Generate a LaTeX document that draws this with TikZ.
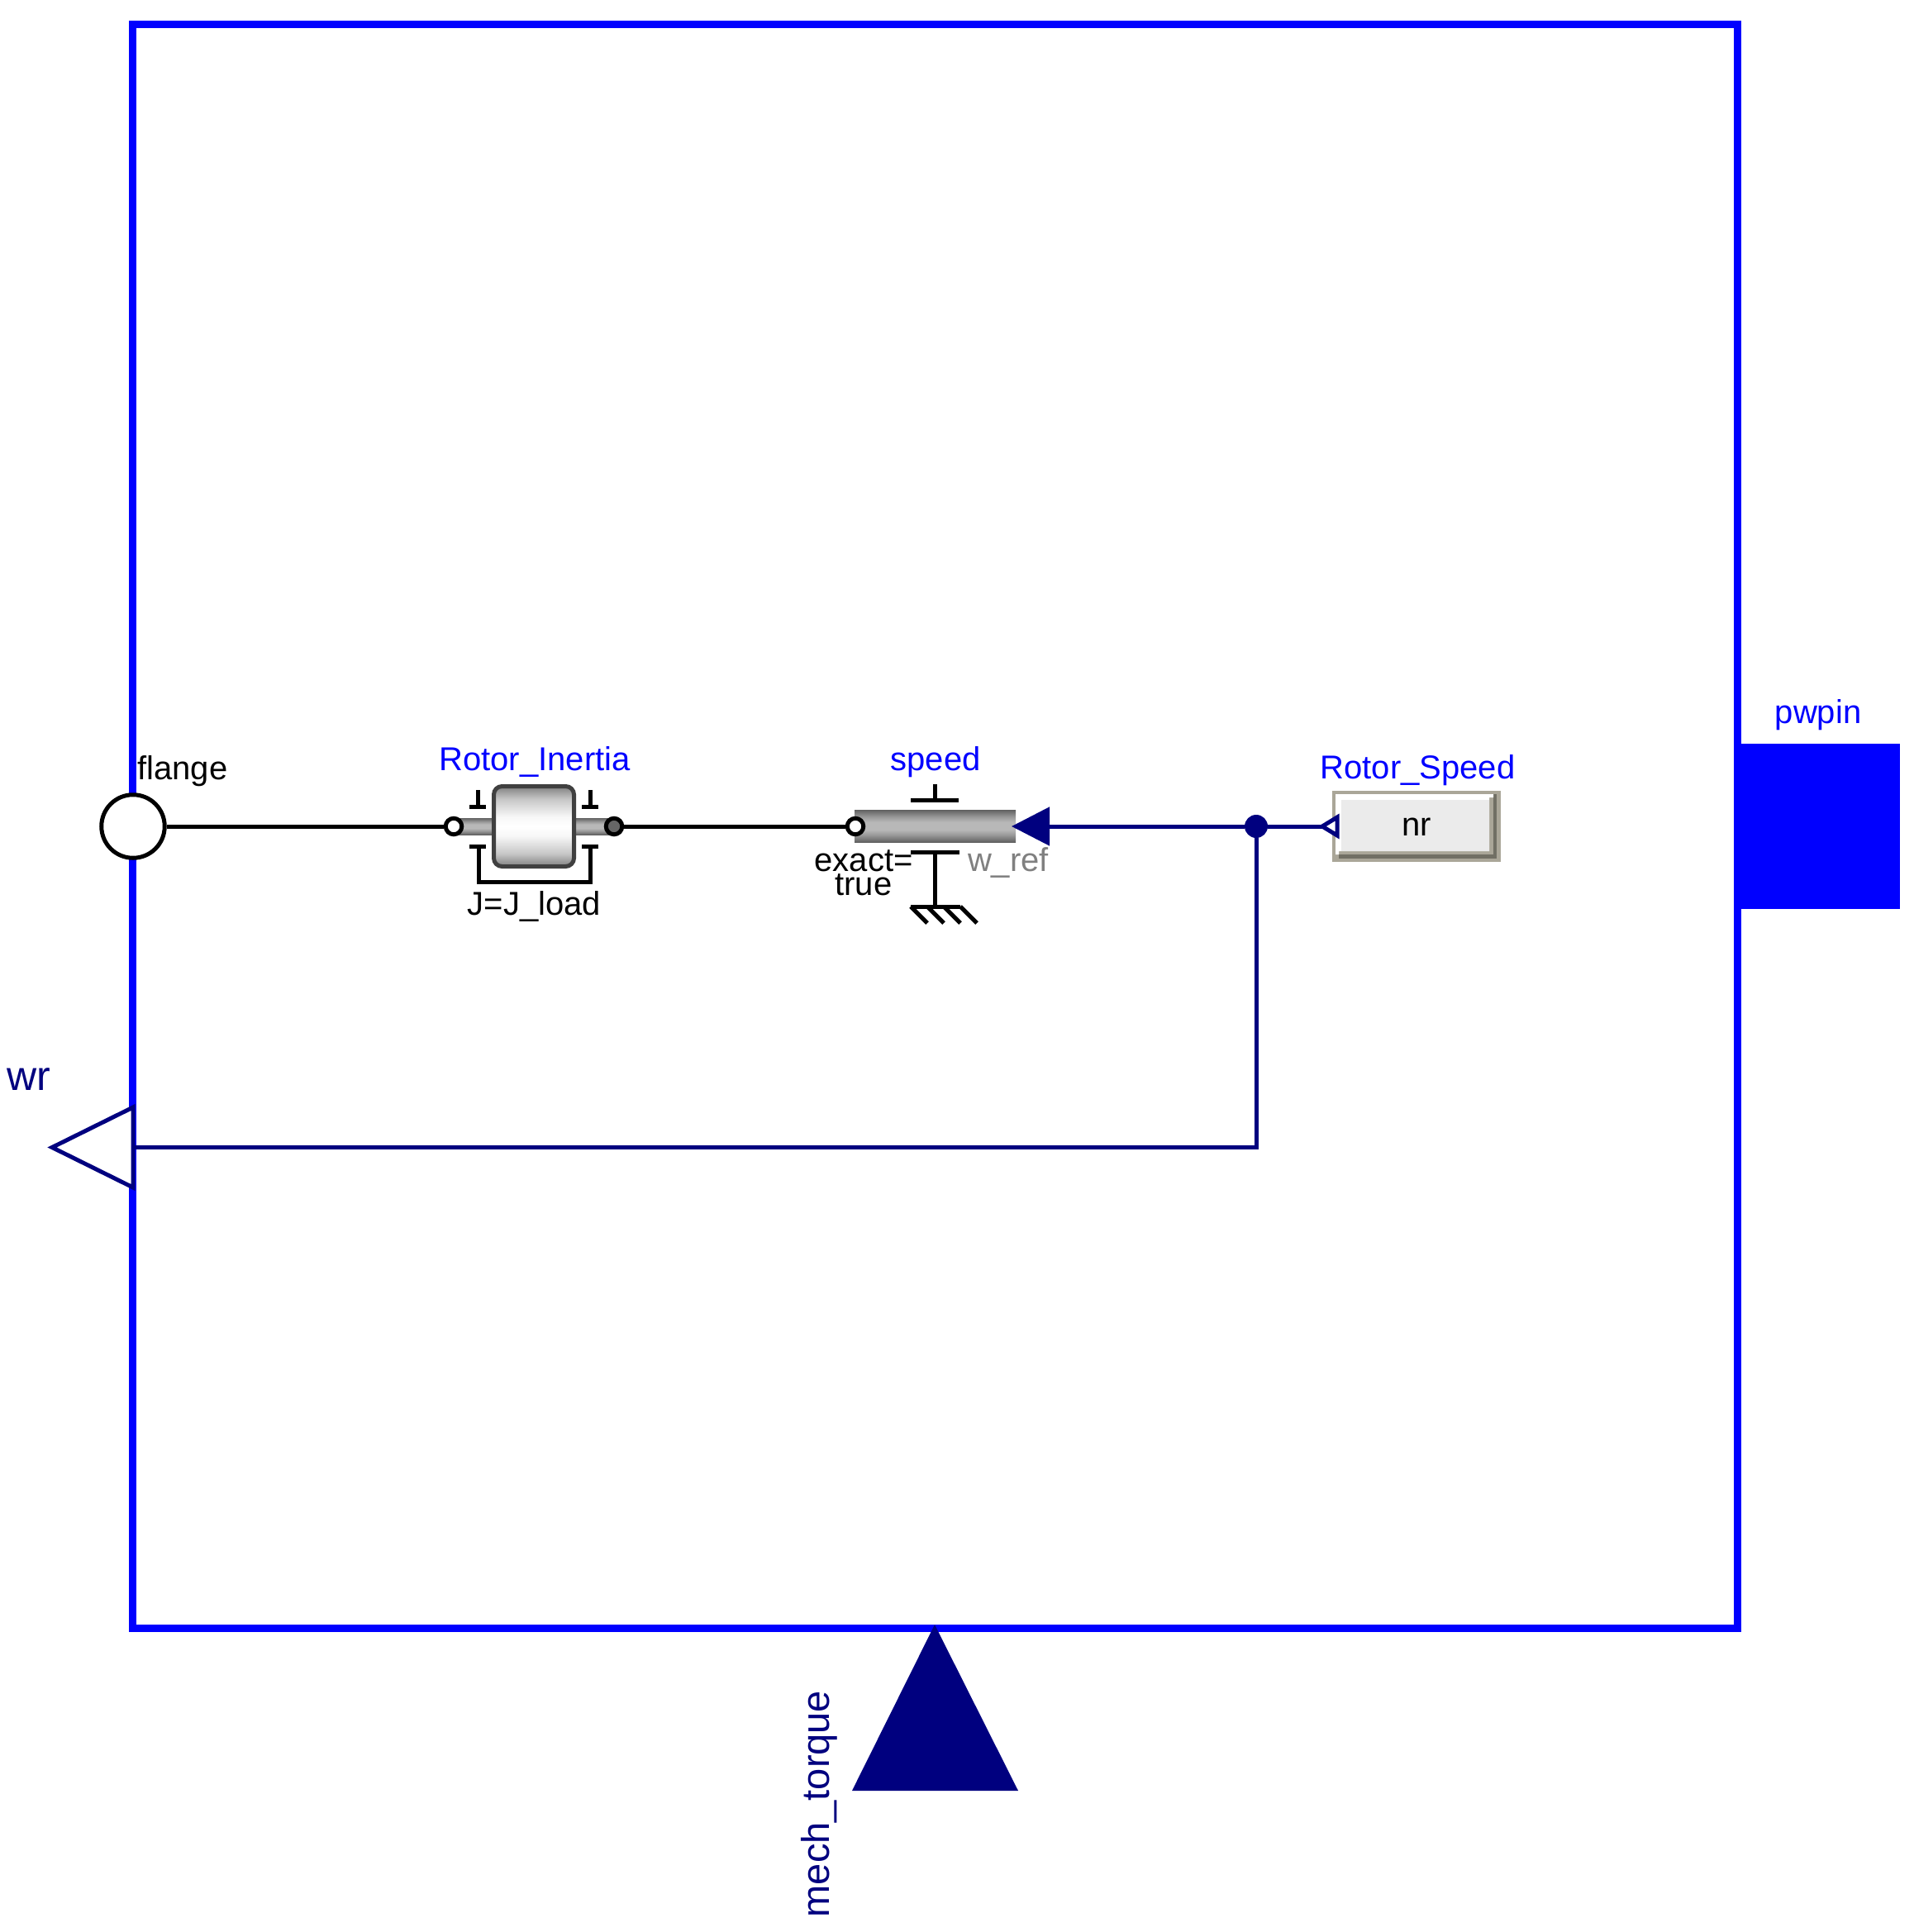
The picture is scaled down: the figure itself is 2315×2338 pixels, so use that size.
\documentclass[tikz,border=0pt]{standalone}
\usepackage{fontspec}
\setmainfont{Liberation Sans}
\usetikzlibrary{arrows.meta}
\definecolor{portblue}{RGB}{0,0,255}
\definecolor{portnavy}{RGB}{0,0,127}
\definecolor{btnedge}{RGB}{170,166,152}
\definecolor{btndark}{RGB}{113,111,100}
\definecolor{btnface}{RGB}{235,235,235}
\pgfdeclareverticalshading{bodyshade}{100bp}{color(0bp)=(black!50); color(25bp)=(black!50); color(33bp)=(black!22); color(44bp)=(black!3); color(50bp)=(white); color(56bp)=(black!3); color(67bp)=(black!22); color(75bp)=(black!50); color(100bp)=(black!50)}
\pgfdeclareverticalshading{barshade}{100bp}{color(0bp)=(black!62); color(25bp)=(black!62); color(36bp)=(black!40); color(44bp)=(black!28); color(56bp)=(black!28); color(64bp)=(black!40); color(75bp)=(black!62); color(100bp)=(black!62)}

\begin{document}
\begin{tikzpicture}[x=.5pt,y=-.5pt,
  lbl/.style={font=\fontsize{20}{14.5}\selectfont,anchor=base,inner sep=0pt},
  biglbl/.style={font=\fontsize{23.5}{28}\selectfont,anchor=base,inner sep=0pt,text=portnavy},
  mech/.style={line width=2.5pt,black},
  sig/.style={line width=2.5pt,portnavy},
  port/.style={circle,draw=black,line width=2.5pt,minimum size=9.75pt,inner sep=0pt,fill=white}]
\useasboundingbox (0,0) rectangle (2315,2338);
\fill[white] (0,0) rectangle (2315,2338);
\draw[portblue,line width=4.5pt] (160.5,29.5) rectangle (2102.5,1970.5);
\fill[portblue] (2100,900) rectangle (2299,1100);
\fill[portnavy] (1131,1966) -- (1232,2167) -- (1031,2167) -- cycle;

\node (flange) [circle,draw=black,fill=white,line width=2.5pt,minimum size=38.25pt,inner sep=0pt] at (161,1000) {};
\node (shaft) [rectangle,shading=barshade,minimum width=97pt,minimum height=10pt,inner sep=0pt] at (646,1000) {};
\node (body) [rectangle,rounded corners=5pt,draw=black!75,line width=2.5pt,minimum size=48.5pt,inner sep=0pt,shading=bodyshade] at (646,1000) {};
\node (inl) [port] at (549,1000) {};
\node (inr) [port,fill=black!60] at (743,1000) {};
\node (bar) [rectangle,shading=barshade,minimum width=97.5pt,minimum height=19.5pt,inner sep=0pt] at (1131.5,999.5) {};
\node (spd) [port] at (1035,1000) {};

\draw[mech] (flange) -- (inl);
\draw[mech] (inr) -- (spd);

\foreach \bx in {578,714} {
  \draw[mech] (\bx-10,976) -- (\bx+10,976) (\bx,976) -- (\bx,956);
  \draw[mech] (\bx-10,1024) -- (\bx+10,1024);
}
\draw[mech] (579,1024) -- (579,1067) -- (714,1067) -- (714,1024);

\draw[mech] (1102,968) -- (1160,968) (1131,968) -- (1131,949);
\draw[mech] (1102,1031) -- (1161,1031) (1131,1031) -- (1131,1097);
\draw[mech] (1102,1097) -- (1162,1097);
\foreach \hx in {1102,1122,1142,1162}
  \draw[mech] (\hx,1097) -- (\hx+20,1117);

\fill[btnedge] (1612,957) rectangle (1816,1043);
\fill[btndark] (1620,961) rectangle (1811,1039);
\fill[btnedge] (1620,965) rectangle (1807,1034);
\fill[white] (1616,961) -- (1807,961) -- (1807,965) -- (1802,965) -- (1802,1030) -- (1620,1030) -- (1620,1034) -- (1616,1034) -- cycle;
\node (nr) [rectangle,fill=btnface,minimum width=89.5pt,minimum height=31pt,inner sep=0pt] at (1712.5,999) {};

\node (junc) [circle,fill=portnavy,minimum size=14pt,inner sep=0pt] at (1520,1000) {};
\coordinate (wtip) at (1224,1000);
\coordinate (nrtip) at (1600,1000);
\coordinate (wrend) at (161,1388.5);
\coordinate (wrtip) at (63,1388.5);
\draw[sig,-{Triangle[length=23pt,width=23pt]}] (junc) -- (wtip);
\draw[sig] (junc) -- (nrtip);
\draw[sig,fill=white] (nrtip) -- (1618,989) -- (1618,1011) -- cycle;
\draw[sig,fill=white] (wrtip) -- (161,1340) -- (161,1437) -- cycle;
\draw[sig] (junc) |- (wrend);

\node (flangetxt) [lbl,anchor=base west] at (166,943) {flange};
\node (inertiatxt) [lbl,text=portblue] at (647,932) {Rotor\_Inertia};
\node (jtxt) [lbl] at (646.5,1107) {J=J\_load};
\node (speedtxt) [lbl,text=portblue] at (1132,932) {speed};
\node (exacttxt) [lbl,align=center] at (1045,1083) {exact=\\true};
\node (wreftxt) [lbl,text=gray] at (1220,1054) {w\_ref};
\node (nrspeedtxt) [lbl,text=portblue] at (1715.5,942) {Rotor\_Speed};
\node (nrtxt) [lbl] at (1714,1011) {nr};
\node (pwpintxt) [lbl,text=portblue] at (2200,875) {pwpin};
\node (wrtxt) [biglbl,font=\fontsize{25}{28}\selectfont] at (35,1319) {wr};
\node (torquetxt) [biglbl,rotate=90] at (1003,2183) {mech\_torque};
\end{tikzpicture}
\end{document}
